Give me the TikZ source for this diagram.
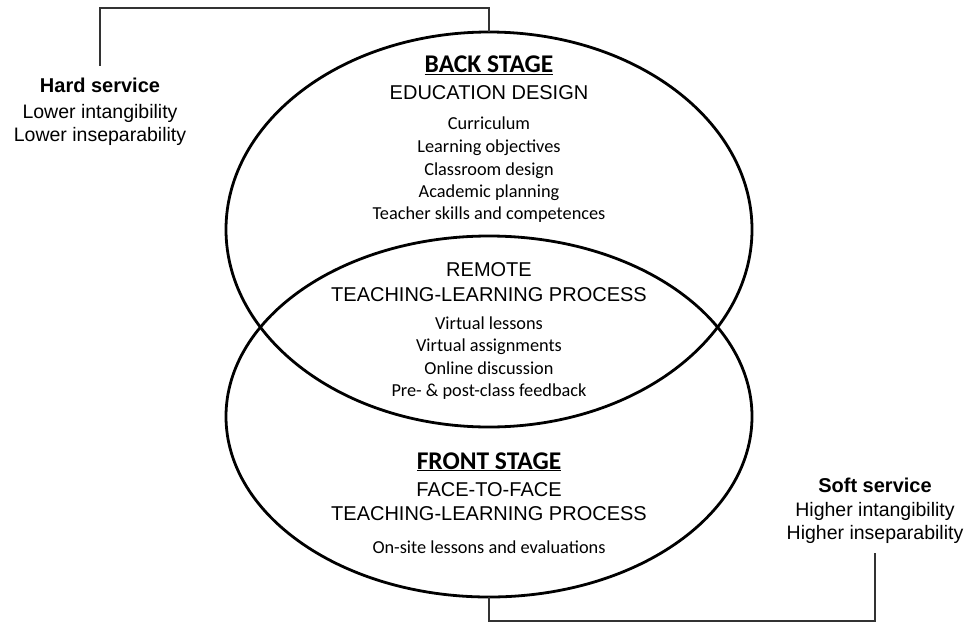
\documentclass[tikz,border=0pt]{standalone}
\usepackage{fontspec}
\setmainfont{Carlito}
\newfontfamily\arialf{Liberation Sans}
\usetikzlibrary{shapes.geometric}
\begin{document}
\begin{tikzpicture}[x=1pt,y=-1pt,
  stage/.style={draw=black, line width=2.8pt, ellipse, inner sep=0pt, outer sep=0pt},
  link/.style={draw=black!80, line width=1.2pt},
  head/.style={anchor=base, inner sep=0pt, font=\arialf\fontsize{20}{22}\selectfont},
  title/.style={anchor=base, inner sep=0pt, font=\bfseries\fontsize{25.5}{28}\selectfont},
  item/.style={anchor=base, inner sep=0pt, font=\fontsize{18.3}{20}\selectfont},
  side/.style={anchor=base, inner sep=0pt, font=\arialf\fontsize{19.5}{22}\selectfont},
  sidebold/.style={anchor=base, inner sep=0pt, font=\arialf\bfseries\fontsize{20}{22}\selectfont}]
\fill[white] (0,0) rectangle (968,622);
\useasboundingbox (0,0) rectangle (968,622);
% ellipses
\node[stage, minimum width=526, minimum height=395] (back) at (489,229.5) {};
\node[stage, minimum width=526, minimum height=361] (front) at (489,416.5) {};
% back stage
\node[title] (bs) at (489,72.3) {\underline{BACK STAGE}};
\node[head] (ed) at (489,99.3) {EDUCATION DESIGN};
\node[item] (b1) at (489,129.3) {Curriculum};
\node[item] (b2) at (489,152.3) {Learning objectives};
\node[item] (b3) at (489,175) {Classroom design};
\node[item] (b4) at (489,197.3) {Academic planning};
\node[item] (b5) at (489,219.3) {Teacher skills and competences};
% remote
\node[head] (r1) at (489,276.7) {REMOTE};
\node[head] (r2) at (489,301.7) {TEACHING-LEARNING PROCESS};
\node[item] (v1) at (489,329) {Virtual lessons};
\node[item] (v2) at (489,351.7) {Virtual assignments};
\node[item] (v3) at (489,374) {Online discussion};
\node[item] (v4) at (489,396.7) {Pre- \& post-class feedback};
% front stage
\node[title] (fs) at (489,469) {\underline{FRONT STAGE}};
\node[head] (f1) at (489,496.7) {FACE-TO-FACE};
\node[head] (f2) at (489,520.7) {TEACHING-LEARNING PROCESS};
\node[item] (f3) at (489,553.3) {On-site lessons and evaluations};
% hard service
\node[sidebold] (hard) at (100,92.7) {Hard service};
\node[side] (hard2) at (100,118.3) {Lower intangibility};
\node[side] (hard3) at (100,141) {Lower inseparability};
% soft service
\node[sidebold] (soft) at (875,492.3) {Soft service};
\node[side] (soft2) at (875,516.7) {Higher intangibility};
\node[side] (soft3) at (875,539.3) {Higher inseparability};
% connectors
\draw[link] (back.north) -- ++(0,-24) -| ([yshift=12pt]hard.north);
\draw[link] (front.south) -- ++(0,24) -| ([yshift=-9pt]soft3.south);
\end{tikzpicture}
\end{document}
